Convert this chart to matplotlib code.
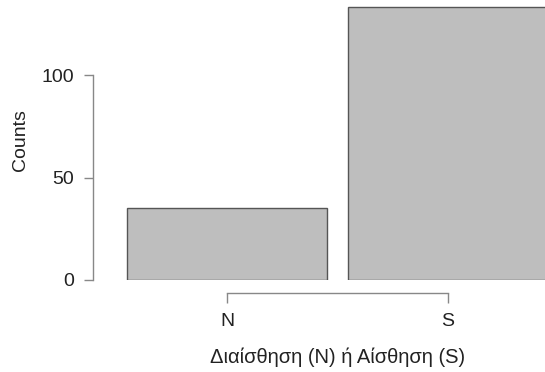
import matplotlib.pyplot as plt

categories = ['N', 'S']
counts = [35, 133]
y_ticks = [0, 50, 100]

plt.rcParams['font.family'] = ['Liberation Sans', 'DejaVu Sans']

fig = plt.figure(figsize=(5.45, 3.72), dpi=100)
ax = fig.add_axes([93 / 545, 92 / 372, 1 - 93 / 545, 280 / 372])

x = range(len(categories))
ax.bar(x, counts, width=0.905, color='#bebebe', edgecolor='#555555', linewidth=1.0)

ax.set_xlim(-0.606, 1.439)
ax.set_ylim(0, 136.6)

for side in ['top', 'right']:
    ax.spines[side].set_visible(False)
ax.spines['left'].set_bounds(0, 100)
ax.spines['bottom'].set_bounds(0, 1)
ax.spines['bottom'].set_position(('outward', 9.4))
for side in ['left', 'bottom']:
    ax.spines[side].set_color('#888888')
    ax.spines[side].set_linewidth(1.0)

ax.set_yticks(y_ticks)
ax.set_xticks(list(x))
ax.set_xticklabels(categories)
ax.tick_params(axis='y', length=6.5, width=1.0, color='#888888', pad=7,
               labelsize=14, labelcolor='#222222')
ax.tick_params(axis='x', length=7, width=1.0, color='#888888', pad=7.5,
               labelsize=14, labelcolor='#222222')

ax.set_ylabel('Counts', fontsize=14, color='#222222', labelpad=9)
ax.set_xlabel('Διαίσθηση (N) ή Αίσθηση (S)', fontsize=14.5, color='#222222')
# R centres the label on the full plot region, which runs past the right edge
ax.xaxis.set_label_coords(0.542, -0.242)

fig.savefig('out.png', dpi=100)
